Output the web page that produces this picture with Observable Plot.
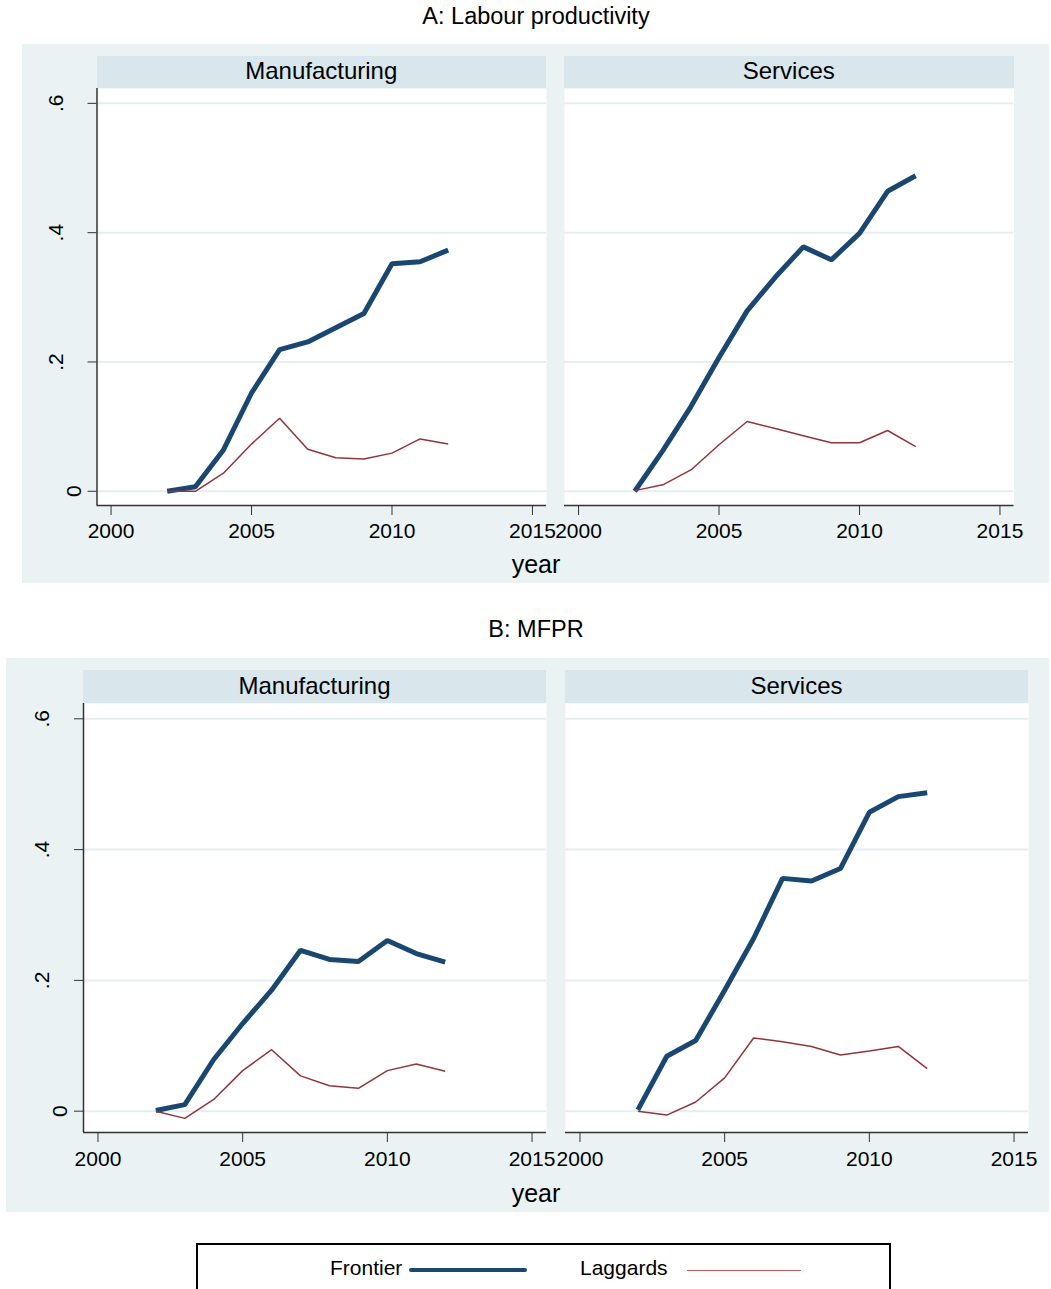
<!DOCTYPE html>
<html>
<head>
<meta charset="utf-8">
<script src="https://cdn.jsdelivr.net/npm/d3@7"></script>
<script src="https://cdn.jsdelivr.net/npm/@observablehq/plot@0.6"></script>
<style>
  html, body { margin: 0; padding: 0; background: #ffffff; }
  body { font-family: "Liberation Sans", Arial, Helvetica, sans-serif; color: #000; }
  #root { position: relative; width: 1051px; height: 1289px; overflow: hidden; }
  .abs { position: absolute; }
  .bg { background: #eaf2f3; }
  .strip { background: #d9e6eb; font-size: 24px; text-align: center; white-space: nowrap; }
  .title { font-size: 23.5px; line-height: 1; text-align: center; white-space: nowrap; }
  .xlab { font-size: 25px; line-height: 1; text-align: center; white-space: nowrap; }
  .legend { border: 2px solid #000; box-sizing: border-box; background: #fff; }
  .legtext { font-size: 21px; line-height: 1; white-space: nowrap; }
</style>
</head>
<body>
<div id="root"></div>
<script>
// ---------------- data ----------------
const years = [2002, 2003, 2004, 2005, 2006, 2007, 2008, 2009, 2010, 2011, 2012];

// Panel A: Labour productivity
const labourManufFrontier = [0.000, 0.007, 0.064, 0.152, 0.219, 0.231, 0.253, 0.275, 0.352, 0.355, 0.373];
const labourManufLaggards = [0.000, 0.000, 0.028, 0.073, 0.113, 0.065, 0.052, 0.050, 0.059, 0.081, 0.073];
const labourServFrontier  = [0.000, 0.063, 0.131, 0.207, 0.279, 0.331, 0.378, 0.358, 0.399, 0.464, 0.488];
const labourServLaggards  = [0.001, 0.010, 0.033, 0.072, 0.108, 0.097, 0.086, 0.075, 0.075, 0.094, 0.069];

// Panel B: MFPR
const mfprManufFrontier = [0.001, 0.010, 0.079, 0.134, 0.185, 0.246, 0.232, 0.229, 0.261, 0.241, 0.228];
const mfprManufLaggards = [0.000, -0.011, 0.018, 0.062, 0.094, 0.054, 0.039, 0.035, 0.062, 0.072, 0.061];
const mfprServFrontier  = [0.002, 0.084, 0.108, 0.185, 0.264, 0.356, 0.352, 0.371, 0.457, 0.481, 0.487];
const mfprServLaggards  = [0.000, -0.006, 0.014, 0.051, 0.112, 0.106, 0.099, 0.086, 0.092, 0.099, 0.065];

const panelTitles = ["A: Labour productivity", "B: MFPR"];
const sectors = ["Manufacturing", "Services"];
const seriesNames = ["Frontier", "Laggards"];
const xTicks = [2000, 2005, 2010, 2015];
const yTicks = [0, 0.2, 0.4, 0.6];
const xTitle = "year";

// ---------------- styles ----------------
const NAVY = "#1a476f";
const MAROON = "#90353b";
const GRID = "#e6eef1";
const AXIS = "#333333";
const fmtY = d => d === 0 ? "0" : String(d).replace(/^0/, "");

const root = document.getElementById("root");
function div(cls, css, text) {
  const el = document.createElement("div");
  el.className = "abs " + (cls || "");
  Object.assign(el.style, css);
  if (text != null) el.textContent = text;
  root.appendChild(el);
  return el;
}

function facetPlot({frontier, laggards, yDomain, width, height, marginLeft, marginBottom, withY, tickPad}) {
  const rows = (vals, s) => years.map((year, i) => ({year, value: vals[i], series: s}));
  const fr = rows(frontier, seriesNames[0]);
  const lg = rows(laggards, seriesNames[1]);
  const xDomain = [1999.5, 2015.5];
  const marks = [
    Plot.frame({fill: "#ffffff", stroke: "none"}),
    Plot.gridY(yTicks, {stroke: GRID, strokeOpacity: 1, strokeWidth: 2}),
    Plot.ruleY([yDomain[0]], {stroke: AXIS, strokeWidth: 1.5}),
    Plot.axisX(xTicks, {tickSize: 10, tickPadding: tickPad, fontSize: 21, stroke: AXIS, fill: "#000",
                        tickFormat: d => String(d), label: null})
  ];
  if (withY) {
    marks.push(
      Plot.ruleX([xDomain[0]], {stroke: AXIS, strokeWidth: 1.5}),
      Plot.axisY(yTicks, {tickSize: 9, stroke: AXIS, fill: "none", label: null}),
      Plot.text(yTicks.filter(d => d !== 0), {y: d => d, frameAnchor: "left", text: fmtY, rotate: -90,
        textAnchor: "middle", lineAnchor: "bottom", dx: -34.5, fontSize: 21, fill: "#000"}),
      Plot.text(yTicks.filter(d => d === 0), {y: d => d, frameAnchor: "left", text: fmtY, rotate: -90,
        textAnchor: "middle", lineAnchor: "bottom", dx: -16.5, fontSize: 21, fill: "#000"})
    );
  }
  marks.push(
    Plot.line(fr, {x: "year", y: "value", stroke: NAVY, strokeWidth: 5, strokeLinejoin: "miter", strokeLinecap: "butt"}),
    Plot.line(lg, {x: "year", y: "value", stroke: MAROON, strokeWidth: 1.5, strokeLinejoin: "miter", strokeLinecap: "butt"})
  );
  return Plot.plot({
    width, height,
    marginTop: 0, marginRight: 0, marginBottom, marginLeft,
    x: {domain: xDomain},
    y: {domain: yDomain, axis: withY ? undefined : null},
    style: {background: "transparent", overflow: "visible", fontFamily: '"Liberation Sans", Arial, Helvetica, sans-serif', color: "#000"},
    marks
  });
}

// ---------------- layout ----------------
const panels = [
  {
    title: panelTitles[0], titleTop: 5,
    bg: {left: 22, top: 44, width: 1027, height: 539},
    stripTop: 56, stripH: 32, stripLine: 30,
    plotTop: 88, plotH: 417, yDomain: [-0.022, 0.623], tickPad: 8,
    facets: [
      {name: sectors[0], left: 22, plotLeft: 96.5, right: 546, frontier: labourManufFrontier, laggards: labourManufLaggards, withY: true},
      {name: sectors[1], left: 564, plotLeft: 564, right: 1013.5, frontier: labourServFrontier, laggards: labourServLaggards, withY: false}
    ],
    xlabTop: 552
  },
  {
    title: panelTitles[1], titleTop: 618,
    bg: {left: 6, top: 658, width: 1043, height: 554},
    stripTop: 670, stripH: 33, stripLine: 32,
    plotTop: 703, plotH: 429, yDomain: [-0.0326, 0.6234], tickPad: 9,
    facets: [
      {name: sectors[0], left: 6, plotLeft: 83, right: 546, frontier: mfprManufFrontier, laggards: mfprManufLaggards, withY: true},
      {name: sectors[1], left: 565, plotLeft: 565, right: 1028, frontier: mfprServFrontier, laggards: mfprServLaggards, withY: false}
    ],
    xlabTop: 1181
  }
];

for (const p of panels) {
  div("title", {left: "0px", top: p.titleTop + "px", width: "1072px"}, p.title);
  div("bg", {left: p.bg.left + "px", top: p.bg.top + "px", width: p.bg.width + "px", height: p.bg.height + "px"});
  for (const f of p.facets) {
    div("strip", {left: f.plotLeft + "px", top: p.stripTop + "px", width: (f.right - f.plotLeft) + "px",
                  height: p.stripH + "px", lineHeight: p.stripLine + "px"}, f.name);
    const holder = div("", {left: f.left + "px", top: p.plotTop + "px"});
    holder.appendChild(facetPlot({
      frontier: f.frontier, laggards: f.laggards, yDomain: p.yDomain,
      width: f.right - f.left, height: p.plotH + 45, marginLeft: f.plotLeft - f.left, marginBottom: 45,
      withY: f.withY, tickPad: p.tickPad
    }));
  }
  div("xlab", {left: "0px", top: p.xlabTop + "px", width: "1072px"}, xTitle);
}

// ---------------- legend ----------------
div("legend", {left: "196px", top: "1243px", width: "695px", height: "50px"});
div("legtext", {left: "330px", top: "1257px"}, seriesNames[0]);
div("", {left: "409px", top: "1268px", width: "118px", height: "4px", background: NAVY, borderRadius: "2px"});
div("legtext", {left: "580px", top: "1257px"}, seriesNames[1]);
div("", {left: "687px", top: "1269.5px", width: "114px", height: "1.3px", background: "#c2585d"});
</script>
</body>
</html>
